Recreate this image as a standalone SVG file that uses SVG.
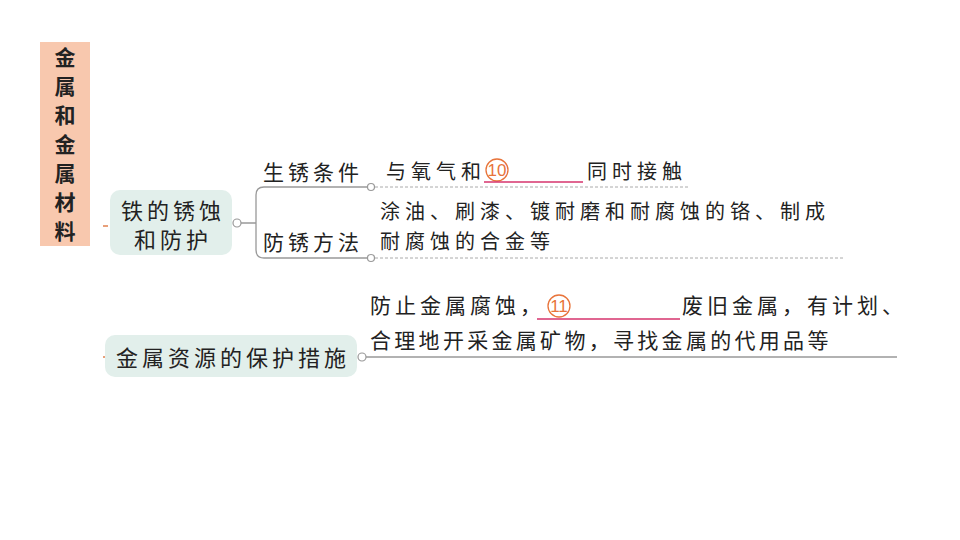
<svg xmlns="http://www.w3.org/2000/svg" width="960" height="540" viewBox="0 0 960 540">
<style>
text{font-family:"Noto Sans CJK SC","Noto Sans",sans-serif;fill:#222}
.t{font-size:21px;letter-spacing:4px}
.k{font-size:20px;letter-spacing:5px}
.dot{fill:#fff;stroke:#999;stroke-width:1.2}
.num{fill:none;stroke:#e8743b;stroke-width:1.3}
.nt{font-family:"Liberation Sans",sans-serif;font-size:17px;fill:#e8743b}
.ul{stroke:#d6336c;stroke-width:1.5}
</style>
<rect width="960" height="540" fill="#fff"/>
<g id="title">
<rect x="40" y="42" width="50" height="204" fill="#f8c8ae"/>
<text font-size="21" font-weight="bold" text-anchor="middle"><tspan x="65" y="65">金</tspan><tspan x="65" y="94">属</tspan><tspan x="65" y="123">和</tspan><tspan x="65" y="152">金</tspan><tspan x="65" y="181">属</tspan><tspan x="65" y="210">材</tspan><tspan x="65" y="239">料</tspan></text>
</g>
<g id="connectors" fill="none">
<line x1="103" y1="226" x2="108" y2="226" stroke="#e8a07a" stroke-width="2"/>
<line x1="103" y1="357" x2="106" y2="357" stroke="#e8a07a" stroke-width="2"/>
<path d="M241 223 H256 M371 187 H264 Q256 187 256 195 V250 Q256 258 264 258 H371" stroke="#999" stroke-width="1.3"/>
<line x1="375" y1="187" x2="690" y2="187" stroke="#aaa" stroke-dasharray="3 2"/>
<line x1="375" y1="258" x2="845" y2="258" stroke="#aaa" stroke-dasharray="3 2"/>
<line x1="366" y1="357" x2="897" y2="357" stroke="#999" stroke-width="1.3"/>
<circle class="dot" cx="237" cy="223" r="4"/>
<circle class="dot" cx="371" cy="187" r="3.5"/>
<circle class="dot" cx="371" cy="258" r="3.5"/>
<circle class="dot" cx="362" cy="357" r="4"/>
</g>
<g id="node-iron">
<rect x="110" y="190" width="122" height="65" rx="10" fill="#e2efeb"/>
<text x="173" y="219" font-size="22" letter-spacing="4" text-anchor="middle">铁的锈蚀</text>
<text x="173" y="248" font-size="22" letter-spacing="4" text-anchor="middle">和防护</text>
</g>
<g id="node-cond">
<text class="t" x="263" y="180">生锈条件</text>
<text class="k" x="386" y="179" letter-spacing="4">与氧气和</text>
<circle class="num" cx="497" cy="170" r="11"/>
<text class="nt" x="497" y="176" text-anchor="middle">10</text>
<line class="ul" x1="484" y1="182" x2="583" y2="182"/>
<text class="k" x="587" y="179" letter-spacing="4">同时接触</text>
</g>
<g id="node-method">
<text class="t" x="263" y="250">防锈方法</text>
<text class="k" x="380" y="219">涂油、刷漆、镀耐磨和耐腐蚀的铬、制成</text>
<text class="k" x="380" y="249">耐腐蚀的合金等</text>
</g>
<g id="node-resource">
<rect x="105" y="335" width="252" height="42" rx="10" fill="#e2efeb"/>
<text x="233" y="366" font-size="22" text-anchor="middle" letter-spacing="4">金属资源的保护措施</text>
<text class="t" x="370" y="313">防止金属腐蚀，</text>
<circle class="num" cx="559" cy="306" r="11"/>
<text class="nt" x="559" y="312" text-anchor="middle">11</text>
<line class="ul" x1="537" y1="319" x2="680" y2="319"/>
<text class="t" x="682" y="313">废旧金属，有计划、</text>
<text x="370" y="348" font-size="21" letter-spacing="3.3">合理地开采金属矿物，寻找金属的代用品等</text>
</g>
</svg>
